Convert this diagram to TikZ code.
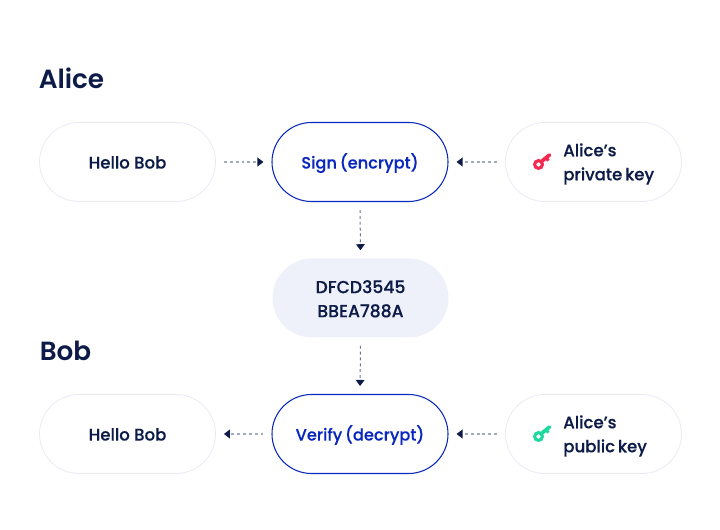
\documentclass[tikz,border=0pt]{standalone}
\usepackage{fontspec}
\setmainfont[WordSpace=0.65,FakeStretch=0.985,FakeBold=0.25]{Poppins Medium}
\newfontfamily\titlefont{Poppins SemiBold}
\newfontfamily\hellofont[FakeStretch=0.985,FakeBold=0.25]{Poppins Medium}
\usetikzlibrary{arrows.meta}
\definecolor{navy}{HTML}{0D1B48}
\definecolor{royal}{HTML}{0A28BE}
\definecolor{pale}{HTML}{E9EAF4}
\definecolor{chip}{HTML}{EEF1F9}
\definecolor{keyred}{HTML}{F7284F}
\definecolor{keygreen}{HTML}{1FD8A0}
\definecolor{dashh}{HTML}{A3A8BE}
\definecolor{dashv}{HTML}{6C7390}
\tikzset{
  pill/.style={rounded corners=39.5*0.75pt,minimum width=176*0.75pt,minimum height=79*0.75pt,inner sep=0pt,align=center,font=\fontsize{12.6}{18}\selectfont,text=navy},
  soft/.style={pill,draw=pale,line width=0.6pt},
  hellotext/.style={font=\hellofont\fontsize{12.6}{18}\selectfont,text height=12.8pt,text depth=3pt},
  strong/.style={pill,draw=royal,line width=0.8pt,text=royal,font=\fontsize{12.35}{18}\selectfont,text height=12.8pt,text depth=3pt},
  filled/.style={pill,fill=chip,font=\fontsize{13.1}{18}\selectfont},
  keytext/.style={anchor=west,inner sep=0pt,align=left,font=\fontsize{12.6}{18}\selectfont,text=navy},
  title/.style={font=\titlefont\fontsize{19.7}{24}\selectfont,text=navy,anchor=west,inner sep=0pt},
  flow/.style={line width=1pt,dash pattern=on 2.2pt off 2.2pt,-{Triangle[length=4.5pt,width=6.5pt,color=navy,fill=navy]},shorten >=6pt,shorten <=6pt},
  flowh/.style={flow,draw=dashh},
  flowv/.style={flow,draw=dashv,line width=0.75pt}
}
\begin{document}
\begin{tikzpicture}[x=0.75pt,y=-0.75pt]
\useasboundingbox (0,0) rectangle (720,530);
\node[title] (alice) at (38.5,78.5) {Alice};
\node[title] (bob) at (39.5,351) {Bob};
\node[soft,hellotext] (hello1) at (127.5,162) {Hello Bob};
\node[strong] (sign) at (360,162) {Sign (encrypt)};
\node[soft] (priv) at (593.5,162) {};
\node[filled] (hash) at (360.5,298) {\rule{0pt}{11pt}DFCD3545\\BBEA788A};
\node[soft,hellotext] (hello2) at (127.5,434) {Hello Bob};
\node[strong] (verify) at (360,434) {Verify (decrypt)};
\node[soft] (pub) at (593.5,434) {};
\node[keytext] (privt) at (563,164) {Alice’s\\private key};
\node[keytext] (pubt) at (563,436) {Alice’s\\public key};
\draw[flowh] (hello1.east) -- (sign.west);
\draw[flowh] (priv.west) -- (sign.east);
\draw[flowv] (sign.south) -- (hash.north);
\draw[flowv] (hash.south) -- (verify.north);
\draw[flowh] (verify.west) -- (hello2.east);
\draw[flowh] (pub.west) -- (verify.east);
% keys
\foreach \c/\dy in {keyred/0,keygreen/272}{
  \begin{scope}[yshift=-\dy*0.75pt]
    \draw[\c,line width=2.3pt] (538.5,164.5) circle (3.9);
    \draw[\c,line width=2.8pt,line cap=round] (541.5,161.5) -- (549.5,155);
    \draw[\c,line width=2.2pt] (546,158) -- (548.5,160.5);
  \end{scope}
}
\end{tikzpicture}
\end{document}
